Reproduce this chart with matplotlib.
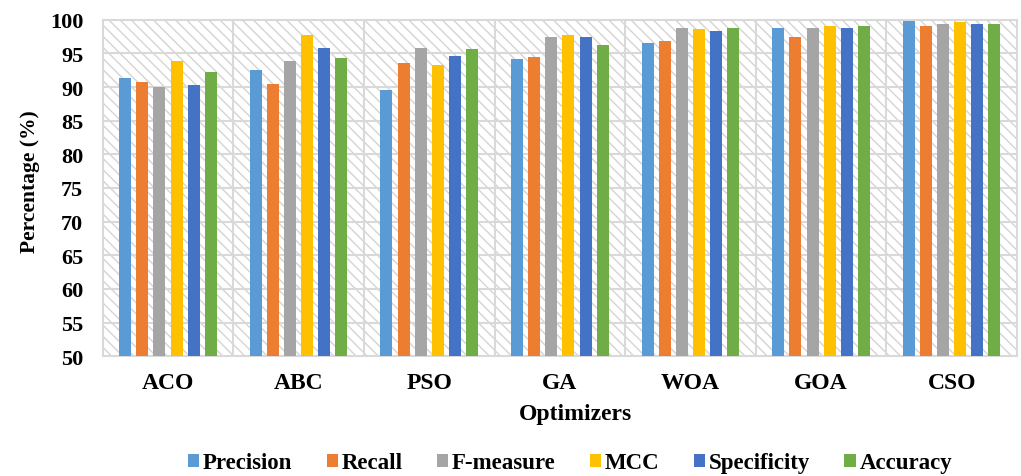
import matplotlib
matplotlib.use("Agg")
import matplotlib.pyplot as plt
from matplotlib.patches import Rectangle, Patch
import numpy as np

optimizers = ["ACO", "ABC", "PSO", "GA", "WOA", "GOA", "CSO"]
metrics = ["Precision", "Recall", "F-measure", "MCC", "Specificity", "Accuracy"]
precision = [91.3, 92.6, 89.5, 94.1, 96.6, 98.8, 99.8]
recall = [90.8, 90.5, 93.5, 94.5, 96.8, 97.5, 99.1]
fmeasure = [90.0, 93.8, 95.8, 97.5, 98.8, 98.8, 99.3]
mcc = [93.8, 97.8, 93.3, 97.8, 98.6, 99.1, 99.6]
specificity = [90.3, 95.8, 94.6, 97.5, 98.3, 98.8, 99.3]
accuracy = [92.3, 94.3, 95.6, 96.3, 98.8, 99.1, 99.3]
series = [precision, recall, fmeasure, mcc, specificity, accuracy]
colors = ["#5B9BD5", "#ED7D31", "#A5A5A5", "#FFC000", "#4472C4", "#70AD47"]

plt.rcParams['font.family'] = ['Liberation Serif', 'DejaVu Serif']
plt.rcParams['font.weight'] = 'bold'
plt.rcParams['hatch.linewidth'] = 1.0

fig = plt.figure(figsize=(10.21, 4.77), dpi=100)
W, H = 1021, 477
left, right, top, bottom = 102.7, 1017, 20.7, 357.3
ax = fig.add_axes([left / W, 1 - bottom / H, (right - left) / W, (bottom - top) / H])

grid_c = "#d9d9d9"
ax.add_patch(Rectangle((0, 0), 1, 1, transform=ax.transAxes, facecolor="white",
                       edgecolor="#d4d4d4", hatch="\\\\\\", linewidth=0, zorder=0))

x = np.arange(len(optimizers))
slot = 0.131
width = 0.092
for j, (vals, c, name) in enumerate(zip(series, colors, metrics)):
    ax.bar(x + (j - 2.5) * slot, vals, width=width, color=c, zorder=3, label=name)

ax.set_xlim(-0.5, len(optimizers) - 0.5)
ax.set_ylim(50, 100)
ax.set_yticks(np.arange(50, 101, 5))
ax.set_xticks(x)
ax.set_xticklabels(optimizers)
for yv in np.arange(55, 100, 5):
    ax.axhline(yv, color=grid_c, lw=1.5, zorder=1)
for xv in np.arange(0.5, len(optimizers) - 0.5, 1):
    ax.axvline(xv, color=grid_c, lw=1.5, zorder=1)
for s in ax.spines.values():
    s.set_color(grid_c)
    s.set_linewidth(1.5)
ax.tick_params(axis='y', length=0, pad=14, labelsize=16)
ax.tick_params(axis='x', length=0, pad=11, labelsize=17)
for lab in ax.get_xticklabels() + ax.get_yticklabels():
    lab.set_fontweight('bold')

fig.text(30 / W, 1 - 182 / H, "Percentage (%)", rotation=90, ha='center', va='center',
         fontsize=15.5, fontweight='bold')
fig.text(575.6 / W, 1 - 415 / H, "Optimizers", ha='center', va='center',
         fontsize=17, fontweight='bold')

handles = [Patch(facecolor=c, edgecolor='none') for c in colors]
leg = fig.legend(handles, metrics, loc='center', bbox_to_anchor=(570 / W, 1 - 464 / H),
                 ncol=6, frameon=False, handlelength=0.5, handleheight=0.5,
                 handletextpad=0.15, columnspacing=1.5,
                 prop={'weight': 'bold', 'size': 16.5, 'family': 'Liberation Serif'})

fig.savefig("out.png", dpi=100)
